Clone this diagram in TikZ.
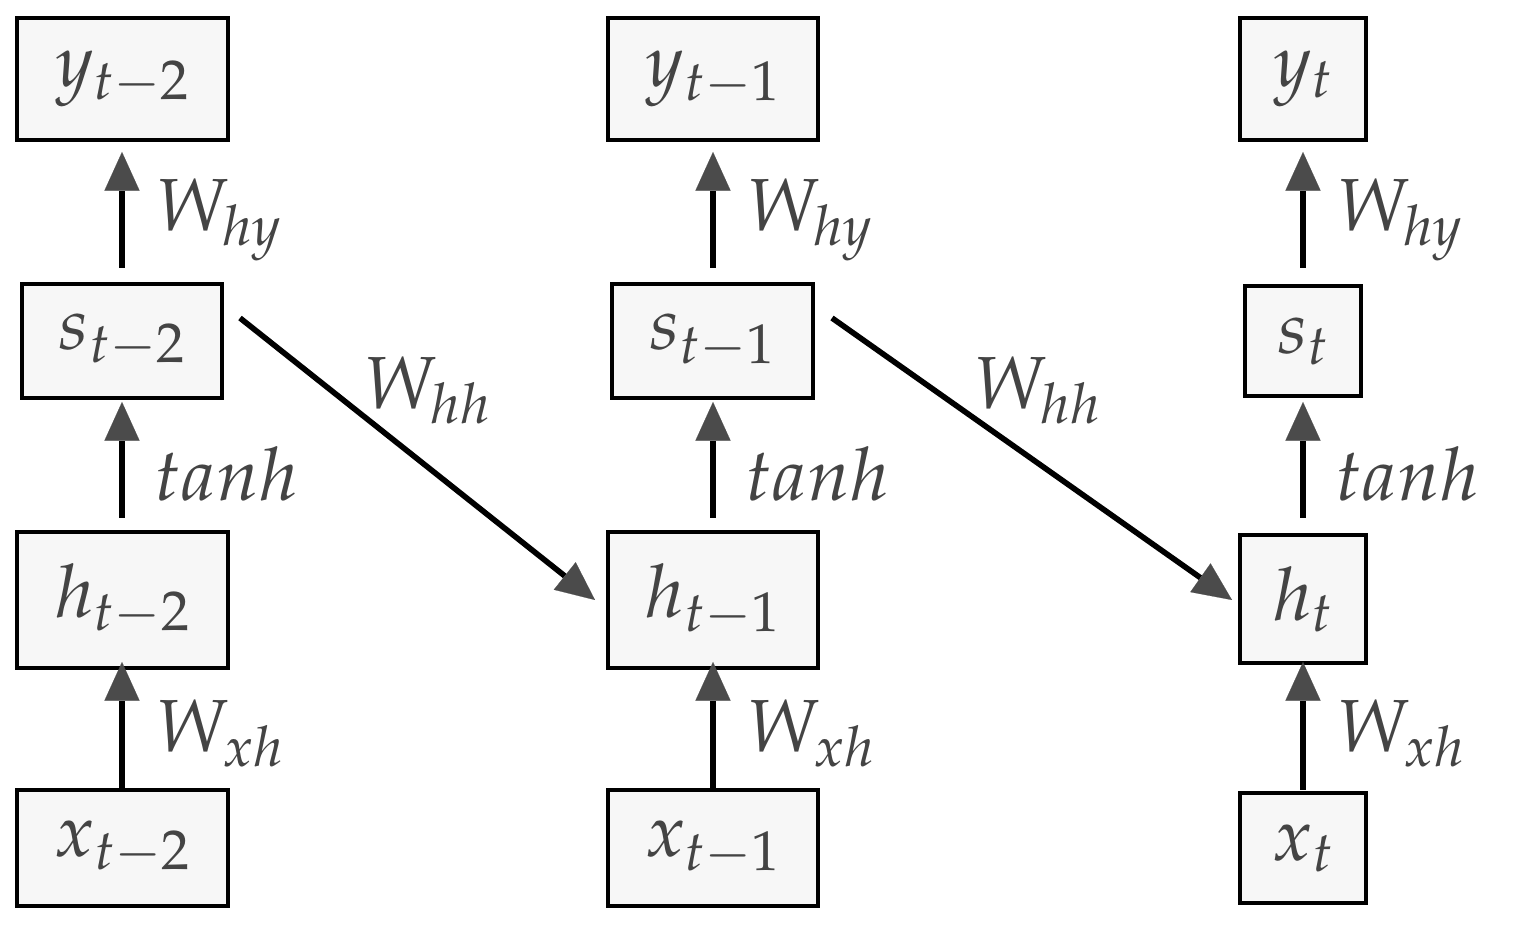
\documentclass[tikz,border=0pt]{standalone}
\usepackage{mathpazo}
\usetikzlibrary{arrows.meta}
\begin{document}
\begin{tikzpicture}[x=0.02cm,y=-0.02cm,
 box/.style={draw=black,line width=2.6pt,fill={rgb,255:red,247;green,247;blue,247},text={rgb,255:red,68;green,68;blue,68},inner sep=0pt,font=\fontsize{42}{48}\selectfont},
 arr/.style={line width=3.2pt,-{Triangle[length=22pt,width=20pt,line width=0.1pt,color={rgb,255:red,75;green,75;blue,75}]}},
 lab/.style={text={rgb,255:red,68;green,68;blue,68},font=\fontsize{42}{48}\selectfont,anchor=west}]
\useasboundingbox (0,0) rectangle (1519,925);
\newcommand{\bx}[6]{\node[box,minimum width=#4*0.02cm,minimum height=#5*0.02cm] (#1) at (#2,#3) {$#6$};}
\bx{y2}{122.5}{79}{211}{122}{y_{t-2}}
\bx{y1}{713}{79}{210}{122}{y_{t-1}}
\bx{y0}{1303}{79}{126}{122}{y_{t}}
\bx{s2}{122}{341}{200}{114}{s_{t-2}}
\bx{s1}{712.5}{341}{201}{114}{s_{t-1}}
\bx{s0}{1303}{341}{116}{110}{s_{t}}
\bx{h2}{122.5}{600}{211}{136}{h_{t-2}}
\bx{h1}{713}{600}{210}{136}{h_{t-1}}
\bx{h0}{1303}{599}{126}{128}{h_{t}}
\bx{x2}{122.5}{848}{211}{116}{x_{t-2}}
\bx{x1}{713}{848}{210}{116}{x_{t-1}}
\bx{x0}{1303}{848}{126}{110}{x_{t}}
\foreach \c/\X in {2/122,1/713,0/1303}{
 \coordinate (a\c) at (\X,268); \coordinate (b\c) at (\X,152);
 \coordinate (c\c) at (\X,518); \coordinate (d\c) at (\X,402);
 \coordinate (e\c) at (\X,790); \coordinate (f\c) at (\X,662);
 \draw[arr] (a\c) -- (b\c);
 \draw[arr] (c\c) -- (d\c);
 \draw[arr] (e\c) -- (f\c);
 \node[lab] (l1\c) at (\X+28,220) {$W_{hy}$};
 \node[lab] (l2\c) at (\X+26,474) {$tanh$};
 \node[lab] (l3\c) at (\X+28,733) {$W_{xh}$};
}
\coordinate (p1) at (240,318); \coordinate (q1) at (595,600);
\coordinate (p2) at (832,318); \coordinate (q2) at (1232,600);
\draw[arr] (p1) -- (q1);
\draw[arr] (p2) -- (q2);
\node[lab] (wh1) at (358,390) {$W_{hh}$};
\node[lab] (wh2) at (968,390) {$W_{hh}$};
\end{tikzpicture}
\end{document}
